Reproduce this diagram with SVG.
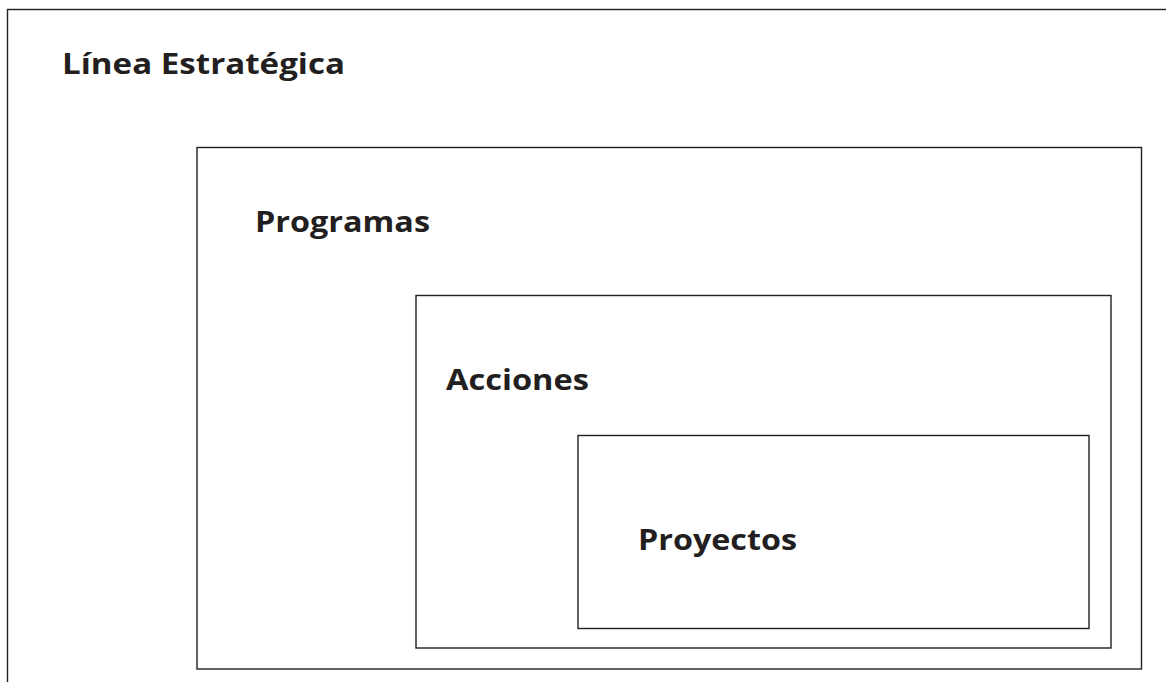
<svg xmlns="http://www.w3.org/2000/svg" width="1166" height="682" viewBox="0 0 1166 682">
<style>
.box{fill:none;stroke:#231f20;stroke-width:1.4}
.lbl{font-family:"Open Sans","Noto Sans","Liberation Sans",sans-serif;font-weight:700;font-size:29px;fill:#231f20}
</style>
<rect width="1166" height="682" fill="#fff"/>
<g id="linea">
<rect class="box" x="7.5" y="9.5" width="1170" height="690"/>
<text class="lbl" x="62" y="73.5" textLength="283" lengthAdjust="spacingAndGlyphs">Línea Estratégica</text>
</g>
<g id="programas">
<rect class="box" x="197" y="147.5" width="944.5" height="521.5"/>
<text class="lbl" x="255" y="232" textLength="175" lengthAdjust="spacingAndGlyphs">Programas</text>
</g>
<g id="acciones">
<rect class="box" x="416" y="295.5" width="695" height="352.5"/>
<text class="lbl" x="446" y="389.5" textLength="143" lengthAdjust="spacingAndGlyphs">Acciones</text>
</g>
<g id="proyectos">
<rect class="box" x="578" y="435.5" width="511" height="193"/>
<text class="lbl" x="638" y="549.5" textLength="159" lengthAdjust="spacingAndGlyphs">Proyectos</text>
</g>
<g id="connectors"/>
</svg>
